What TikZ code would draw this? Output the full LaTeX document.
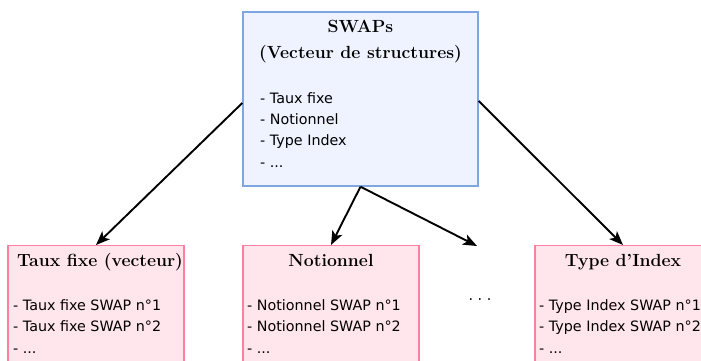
\documentclass[tikz,border=0pt]{standalone}
\usepackage{fontspec}
\newfontfamily\listfont{DejaVu Sans}
\usetikzlibrary{arrows.meta}
\definecolor{swapblue}{HTML}{7EA6E0}
\definecolor{swapbluefill}{HTML}{EEF3FF}
\definecolor{swappink}{HTML}{FF7FA0}
\definecolor{swappinkfill}{HTML}{FFE6EC}
\tikzset{
  topbox/.style={draw=swapblue, fill=swapbluefill, line width=1.4pt, minimum width=235pt, minimum height=174pt},
  fieldbox/.style={draw=swappink, fill=swappinkfill, line width=1.4pt, minimum width=176pt, minimum height=160pt, anchor=north},
  boxtitle/.style={font=\fontsize{17.6}{26}\selectfont\bfseries, align=center, inner sep=0pt, anchor=base},
  boxlist/.style={font=\listfont\fontsize{14.3}{21.2}\selectfont, align=left, inner sep=0pt, anchor=base west},
  link/.style={-{Stealth[length=14pt,width=11pt,inset=3.5pt]}, line width=1.9pt}
}
\begin{document}
\begin{tikzpicture}[x=1pt, y=-1pt]
  \useasboundingbox (0,0) rectangle (701,360);
  \clip (0,0) rectangle (701,360);
  % vector of structures (base = last line)
  \node[topbox] (swaps) at (360.5,99) {};
  \node[boxtitle] (swapstitle) at (360.5,58) {SWAPs\\(Vecteur de structures)};
  \node[boxlist] (swapslist) at (260,167) {- Taux fixe\\- Notionnel\\- Type Index\\- ...};
  % one vector per field
  \node[fieldbox] (taux) at (96,245) {};
  \node[boxtitle] (tauxtitle) at (100,266) {Taux fixe (vecteur)};
  \node[boxlist] (tauxlist) at (13,353) {- Taux fixe SWAP n°1\\- Taux fixe SWAP n°2\\- ...};
  \node[fieldbox] (notionnel) at (331,245) {};
  \node[boxtitle] (notionneltitle) at (331,266) {Notionnel};
  \node[boxlist] (notionnellist) at (247,353) {- Notionnel SWAP n°1\\- Notionnel SWAP n°2\\- ...};
  \node[fieldbox] (typeindex) at (623,245) {};
  \node[boxtitle] (typeindextitle) at (623,266) {Type d’Index};
  \node[boxlist] (typeindexlist) at (539,353) {- Type Index SWAP n°1\\- Type Index SWAP n°2\\- ...};
  \node[inner sep=0pt] (more) at (480,302) {\listfont\fontsize{14.3}{21}\selectfont · · ·};
  \coordinate (moreend) at (477,246);
  % links
  \draw[link] ([yshift=-4pt]swaps.west) -- (taux.north);
  \draw[link] (swaps.south) -- (notionnel.north);
  \draw[link] (swaps.south) -- (moreend);
  \draw[link] ([yshift=-2pt]swaps.east) -- (typeindex.north);
\end{tikzpicture}
\end{document}
